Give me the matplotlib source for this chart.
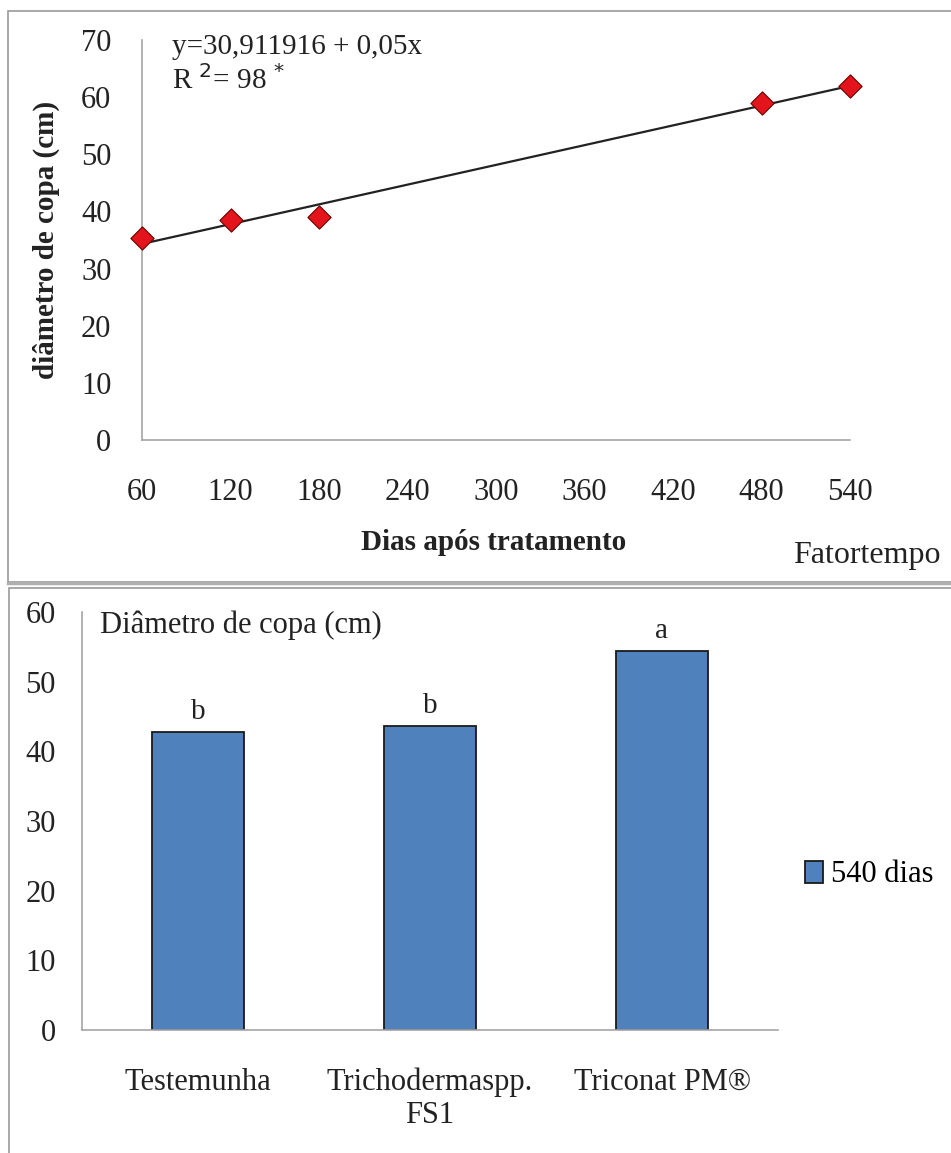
import matplotlib
matplotlib.use("Agg")
import matplotlib.pyplot as plt
import numpy as np
from matplotlib.patches import Rectangle
from matplotlib.lines import Line2D

# ---- data ----
dias = [60, 120, 180, 480, 540]
diametro = [35.3, 38.5, 39.0, 59.0, 62.0]
xticks_top = [60, 120, 180, 240, 300, 360, 420, 480, 540]
yticks_top = [0, 10, 20, 30, 40, 50, 60, 70]

tratamentos = ["Testemunha", "Trichodermaspp.\nFS1", "Triconat PM®"]
diam_540 = [42.8, 43.6, 54.4]
letras = ["b", "b", "a"]
yticks_bot = [0, 10, 20, 30, 40, 50, 60]

W, H = 951, 1153
fig = plt.figure(figsize=(W / 100, H / 100), dpi=100)
fig.patch.set_facecolor("white")
serif = "Liberation Serif"
grey_axis = "#a6a6a6"
txt = "#222222"
FS = 22

# panel borders
fig.add_artist(Rectangle((8 / W, 1 - 582 / H), 1.2, (582 - 11) / H, transform=fig.transFigure,
                         fill=False, edgecolor="#9a9a9a", lw=1.2))
fig.add_artist(Line2D([8 / W, 1], [1 - 583.5 / H] * 2, transform=fig.transFigure, color="#b0b0b0", lw=2.5))
fig.add_artist(Rectangle((9 / W, -0.1), 1.2, 1 - 588 / H + 0.1, transform=fig.transFigure,
                         fill=False, edgecolor="#9a9a9a", lw=1.2))

# ---- top chart ----
ax1 = fig.add_axes([142 / W, 1 - 440 / H, (850 - 142) / W, (440 - 40) / H])
ax1.set_xlim(60, 540)
ax1.set_ylim(0, 70)
for s in ["top", "right"]:
    ax1.spines[s].set_visible(False)
for s in ["left", "bottom"]:
    ax1.spines[s].set_color(grey_axis)
    ax1.spines[s].set_linewidth(1.2)
ax1.set_xticks(xticks_top)
ax1.set_yticks(yticks_top)
ax1.tick_params(length=0, labelsize=FS, colors=txt)
ax1.tick_params(axis="x", pad=27)
ax1.tick_params(axis="y", pad=22)
for lab in ax1.get_xticklabels() + ax1.get_yticklabels():
    lab.set_fontfamily(serif)

coef = np.polyfit(dias, diametro, 1)
xl = np.array([dias[0], dias[-1]])
ax1.plot(xl, np.polyval(coef, xl), color=txt, lw=1.6, zorder=2)
ax1.scatter(dias, diametro, marker="D", s=140, color="#e3141b", edgecolor="#6a0000",
            linewidth=0.8, zorder=3, clip_on=False)

fig.text(172 / W, 1 - 47 / H, "y=30,911916 + 0,05x",
         fontsize=21, family=serif, va="center", ha="left", color=txt)
fig.text(172 / W, 1 - 80 / H, "R $^{2}$= 98 $^{*}$",
         fontsize=21, family=serif, va="center", ha="left", color=txt)

fig.text(46 / W, 1 - 240 / H, "diâmetro de copa (cm)", rotation=90, ha="center", va="center",
         fontsize=21, family=serif, fontweight="bold", color=txt)
fig.text(494 / W, 1 - 543 / H, "Dias após tratamento", ha="center", va="center",
         fontsize=21, family=serif, fontweight="bold", color=txt)
fig.text(867 / W, 1 - 556 / H, "Fatortempo", ha="center", va="center",
         fontsize=23, family=serif, color=txt)

# ---- bottom chart ----
ax2 = fig.add_axes([82 / W, 1 - 1030 / H, (778 - 82) / W, (1030 - 612) / H])
x = np.arange(len(tratamentos))
ax2.bar(x, diam_540, width=0.4, color="#4f81bd", edgecolor="#1a1a1a", linewidth=1.3,
        label="540 dias", zorder=2)
ax2.set_xlim(-0.5, len(tratamentos) - 0.5)
ax2.set_ylim(0, 60)
ax2.set_yticks(yticks_bot)
ax2.set_xticks(x)
ax2.set_xticklabels(tratamentos, linespacing=1.2)
for s in ["top", "right"]:
    ax2.spines[s].set_visible(False)
for s in ["left", "bottom"]:
    ax2.spines[s].set_color(grey_axis)
    ax2.spines[s].set_linewidth(1.2)
ax2.tick_params(length=0, labelsize=FS, colors=txt)
ax2.tick_params(axis="x", pad=27)
ax2.tick_params(axis="y", pad=19)
for lab in ax2.get_xticklabels() + ax2.get_yticklabels():
    lab.set_fontfamily(serif)
for xi, v, l in zip(x, diam_540, letras):
    ax2.annotate(l, (xi, v), xytext=(0, 5), textcoords="offset points", ha="center",
                 va="bottom", fontsize=21, family=serif, color=txt)
fig.text(100 / W, 1 - 625 / H, "Diâmetro de copa (cm)", ha="left", va="center",
         fontsize=22, family=serif, color=txt)
ax2.legend(loc="center left", bbox_to_anchor=(805 / W, 1 - 875 / H),
           bbox_transform=fig.transFigure, frameon=False,
           prop={"family": serif, "size": FS}, handlelength=0.6, handleheight=0.7,
           handletextpad=0.25, borderpad=0, borderaxespad=0)

fig.savefig("out.png", dpi=100, facecolor="white")
